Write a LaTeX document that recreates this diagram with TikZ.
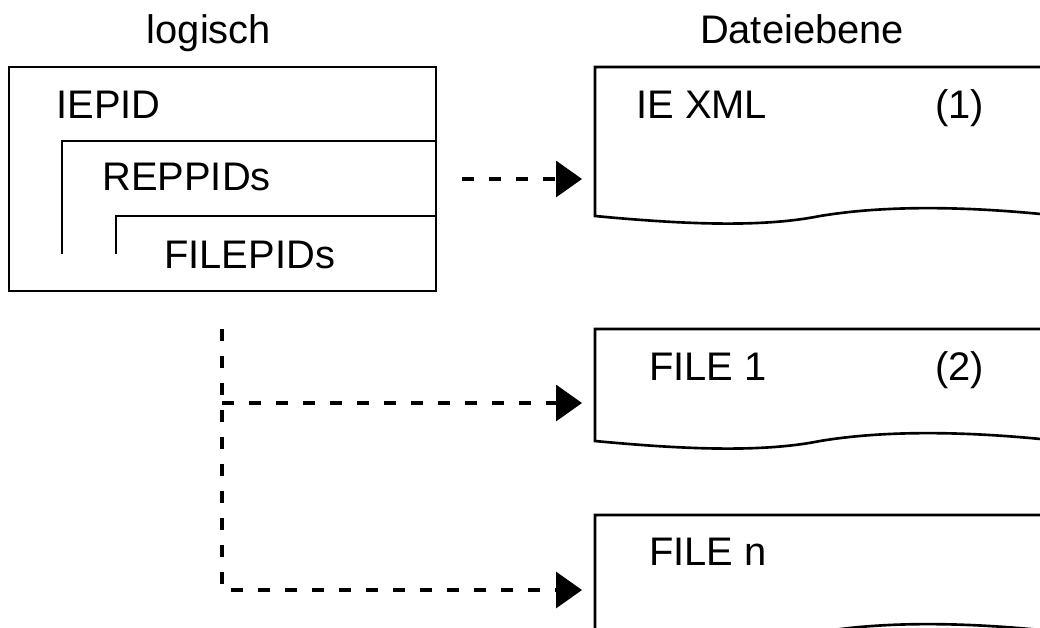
\documentclass[tikz,border=0pt]{standalone}
\usepackage{fontspec}
\setmainfont{Liberation Sans}
\usetikzlibrary{arrows.meta}

\begin{document}
\begin{tikzpicture}[x=0.02cm,y=-0.02cm,
	every node/.style={inner sep=0pt,font=\fontsize{22.7pt}{27pt}\selectfont},
	box/.style={line width=1.5pt},
	link/.style={line width=1.9pt,dash pattern=on 0.24cm off 0.3cm,shorten >=0.26cm,-{Triangle[length=0.52cm,width=0.72cm]}}]
	\useasboundingbox (0,0) rectangle (1040,627);
	\clip (0,0) rectangle (1040,627);
	\node[anchor=base] (logisch) at (209,43) {logisch};
	\node[anchor=base] (datei) at (802,43) {Dateiebene};
	% logische Ebene
	\draw[box] (9,67) rectangle (436,291);
	\draw[box] (62,254) |- (436,141);
	\draw[box] (116,254) |- (436,216);
	\node[anchor=base west] (iepid) at (56,118) {IEPID};
	\node[anchor=base west] (reppid) at (102,190) {REPPIDs};
	\node[anchor=base west] (filepid) at (164,268) {FILEPIDs};
	% Dateien
	\foreach \t/\b/\a/\n in {67/216/179/doc1, 329/441/403/doc2, 515/632/590/doc3}{
		\draw[box] (1060,\t) -- (595,\t) -- (595,\b) .. controls (680,\b+8) and (760,\b+12) .. (820,\b) .. controls (880,\b-10) and (960,\b-11) .. (1060,\b);
		\coordinate (\n) at (595,\a);
	}
	\node[anchor=base west] (iexml) at (636,118) {IE XML};
	\node[anchor=base west] (nr1) at (935,118) {(1)};
	\node[anchor=base west] (file1) at (649,380) {FILE 1};
	\node[anchor=base west] (nr2) at (935,380) {(2)};
	\node[anchor=base west] (filen) at (649,565) {FILE n};
	% Verweise
	\coordinate (ie) at (462,179);
	\coordinate (top) at (222,329);
	\coordinate (mid) at (222,403);
	\draw[link] (ie) -- (doc1);
	\draw[link] (top) |- (doc3);
	\draw[link] (mid) -- (doc2);
\end{tikzpicture}
\end{document}
